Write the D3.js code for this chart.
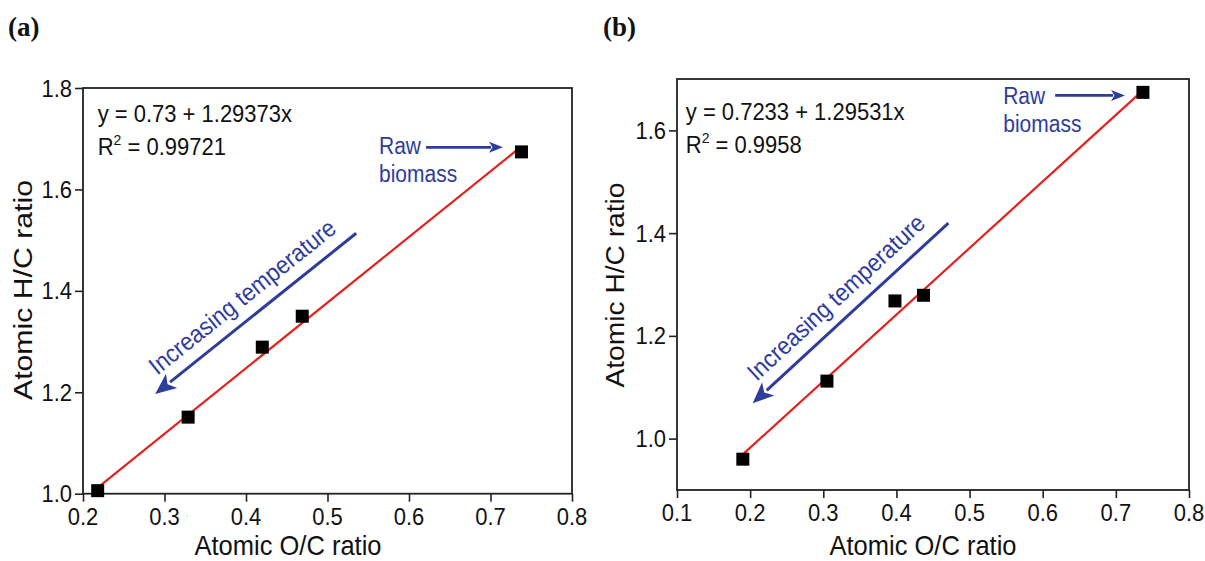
<!DOCTYPE html>
<html>
<head>
<meta charset="utf-8">
<script src="https://cdn.jsdelivr.net/npm/d3@7"></script>
<style>
  html, body { margin: 0; padding: 0; background: #fff; }
</style>
</head>
<body>
<svg id="chart" width="1205" height="561"></svg>
<script>
// ---------------- DATA ----------------
const ocA = [0.218, 0.329, 0.420, 0.469, 0.738];
const hcA = [1.006, 1.151, 1.289, 1.350, 1.674];
const fitA = [0.73, 1.29373];          // intercept, slope
const fitRangeA = [0.218, 0.738];
const eqA = ["y = 0.73 + 1.29373x", "0.99721"];
const xTicksA = [0.2, 0.3, 0.4, 0.5, 0.6, 0.7, 0.8];
const yTicksA = [1.0, 1.2, 1.4, 1.6, 1.8];

const ocB = [0.190, 0.305, 0.398, 0.437, 0.737];
const hcB = [0.960, 1.112, 1.268, 1.279, 1.674];
const fitB = [0.7233, 1.29531];
const fitRangeB = [0.190, 0.740];
const eqB = ["y = 0.7233 + 1.29531x", "0.9958"];
const xTicksB = [0.1, 0.2, 0.3, 0.4, 0.5, 0.6, 0.7, 0.8];
const yTicksB = [1.0, 1.2, 1.4, 1.6];

const xTitle = "Atomic O/C ratio";
const yTitle = "Atomic H/C ratio";
const rawLabel = ["Raw", "biomass"];
const tempLabel = "Increasing temperature";

// ---------------- LAYOUT ----------------
const RED = "#e3221f", BLUE = "#2e3c9c", INK = "#111";
const SANS = "Arial, 'Liberation Sans', sans-serif";
const SY = 1.1; // vertical stretch of the reference's lettering
const svg = d3.select("#chart");
const fmt = d3.format(".1f");

// text with slight vertical stretch, anchored at (x, y) baseline
function stext(g, x, y, str, size, anchor, fill) {
  return g.append("text")
    .attr("transform", `translate(${x},${y}) scale(1,${SY})`)
    .attr("text-anchor", anchor || "start")
    .style("font-family", SANS).style("font-size", size + "px")
    .attr("fill", fill || INK).text(str);
}

function panel(cfg) {
  const g = svg.append("g");
  const x = d3.scaleLinear().domain(cfg.xDomain).range([cfg.left, cfg.right]);
  const y = d3.scaleLinear().domain(cfg.yDomain).range([cfg.bottom, cfg.top]);

  // frame
  g.append("rect").attr("x", cfg.left).attr("y", cfg.top)
    .attr("width", cfg.right - cfg.left).attr("height", cfg.bottom - cfg.top)
    .attr("fill", "none").attr("stroke", "#222").attr("stroke-width", 1.8);

  // x axis ticks
  const xMinor = d3.range(cfg.xDomain[0] + 0.05, cfg.xDomain[1], 0.1);
  const gx = g.append("g").attr("transform", `translate(0,${cfg.bottom})`);
  gx.call(d3.axisBottom(x).tickValues(xMinor).tickSize(5).tickFormat(""));
  gx.call(d3.axisBottom(x).tickValues(cfg.xTicks).tickSize(8).tickFormat(""));
  // y axis ticks
  const gy = g.append("g").attr("transform", `translate(${cfg.left},0)`);
  gy.call(d3.axisLeft(y).tickValues(cfg.yMinor).tickSize(5).tickFormat(""));
  gy.call(d3.axisLeft(y).tickValues(cfg.yTicks).tickSize(8).tickFormat(""));
  g.selectAll(".domain").remove();
  g.selectAll(".tick line").attr("stroke", "#222").attr("stroke-width", 1.6);

  // tick labels
  cfg.xTicks.forEach(v => stext(g, x(v), cfg.bottom + 31, fmt(v), 22, "middle"));
  cfg.yTicks.forEach(v => stext(g, cfg.left - 11, y(v) + 8.5, fmt(v), 22, "end"));

  // titles
  stext(g, cfg.xTitleX, cfg.xTitleY, xTitle, 25.5, "middle");
  g.append("text").attr("transform", `translate(${cfg.yTitleX},${cfg.yTitleY}) rotate(-90)`)
    .attr("text-anchor", "middle").style("font-family", SANS).style("font-size", "26px").attr("fill", INK)
    .attr("textLength", cfg.yTitleLen).attr("lengthAdjust", "spacingAndGlyphs").text(yTitle);

  // panel label
  svg.append("text").attr("x", cfg.labelX).attr("y", 36)
    .style("font-family", "'Liberation Serif', 'Times New Roman', serif")
    .style("font-weight", "bold").style("font-size", "27px").attr("fill", INK).text(cfg.label);

  // fit line
  g.append("line")
    .attr("x1", x(cfg.fitRange[0])).attr("y1", y(cfg.fit[0] + cfg.fit[1] * cfg.fitRange[0]))
    .attr("x2", x(cfg.fitRange[1])).attr("y2", y(cfg.fit[0] + cfg.fit[1] * cfg.fitRange[1]))
    .attr("stroke", RED).attr("stroke-width", 2.2);

  // points
  const s = 13;
  g.selectAll("rect.pt").data(cfg.xs.map((v, i) => [v, cfg.ys[i]])).enter()
    .append("rect").attr("class", "pt")
    .attr("x", d => x(d[0]) - s / 2).attr("y", d => y(d[1]) - s / 2)
    .attr("width", s).attr("height", s).attr("fill", "#000");

  // equation
  const ex = x(cfg.eqPos[0]), ey = y(cfg.eqPos[1]);
  stext(g, ex, ey, cfg.eq[0], 22, "start");
  const r2 = stext(g, ex, ey + 33, "", 22, "start");
  r2.append("tspan").text("R");
  r2.append("tspan").style("font-size", "14px").attr("dy", -9).text("2");
  r2.append("tspan").attr("dy", 9).text(" = " + cfg.eq[1]);

  // Raw biomass label + arrow
  stext(g, x(cfg.rawPos[0]), y(cfg.rawPos[1]), rawLabel[0], 21, "start", BLUE);
  stext(g, x(cfg.rawPos[0]), y(cfg.rawPos[1]) + 28, rawLabel[1], 21, "start", BLUE);
  arrow(g, x(cfg.rawArrow[0]), y(cfg.rawArrow[1]), x(cfg.rawArrow[2]), y(cfg.rawArrow[1]), 2.8, 14, 11);

  // temperature arrow
  const x1 = x(cfg.tArrow[0]), y1 = y(cfg.tArrow[1]), x2 = x(cfg.tArrow[2]), y2 = y(cfg.tArrow[3]);
  arrow(g, x1, y1, x2, y2, 3, 21, 18);
  const ang = Math.atan2(y1 - y2, x1 - x2) * 180 / Math.PI;
  const len = Math.hypot(x1 - x2, y1 - y2);
  const ux = (x1 - x2) / len, uy = (y1 - y2) / len;
  const nx = uy, ny = -ux; // perpendicular, upper-left side
  const t = cfg.tTextAlong, off = cfg.tTextOff;
  const cx = x2 + ux * t * len + nx * off, cy = y2 + uy * t * len + ny * off;
  g.append("text").attr("transform", `translate(${cx},${cy}) rotate(${ang}) scale(1,${SY})`)
    .attr("text-anchor", "middle").style("font-family", SANS).style("font-size", "22.5px")
    .attr("fill", BLUE).text(tempLabel);
}

function arrow(g, x1, y1, x2, y2, w, headLen, headW) {
  const len = Math.hypot(x2 - x1, y2 - y1);
  const ux = (x2 - x1) / len, uy = (y2 - y1) / len;
  const bx = x2 - ux * headLen, by = y2 - uy * headLen;
  g.append("line").attr("x1", x1).attr("y1", y1).attr("x2", bx + ux * 2).attr("y2", by + uy * 2)
    .attr("stroke", BLUE).attr("stroke-width", w);
  const px = -uy, py = ux;
  g.append("path").attr("d", `M${x2},${y2}L${bx + px * headW / 2},${by + py * headW / 2}L${bx + ux * headLen * 0.25},${by + uy * headLen * 0.25}L${bx - px * headW / 2},${by - py * headW / 2}Z`)
    .attr("fill", BLUE);
}

panel({
  label: "(a)", labelX: 8,
  left: 83, right: 572, top: 88, bottom: 493.7,
  xDomain: [0.2, 0.8], yDomain: [1.0, 1.8],
  xTicks: xTicksA, yTicks: yTicksA, yMinor: [1.1, 1.3, 1.5, 1.7],
  xs: ocA, ys: hcA, fit: fitA, fitRange: fitRangeA, eq: eqA,
  eqPos: [0.218, 1.733],
  rawPos: [0.5632, 1.670], rawArrow: [0.6209, 1.683, 0.7153],
  tArrow: [0.5352, 1.5135, 0.2886, 1.1966], tTextAlong: 0.5, tTextOff: 13,
  xTitleX: 288, xTitleY: 555, yTitleX: 32, yTitleY: 290, yTitleLen: 220
});

panel({
  label: "(b)", labelX: 603,
  left: 677, right: 1189, top: 79, bottom: 490,
  xDomain: [0.1, 0.8], yDomain: [0.9, 1.7],
  xTicks: xTicksB, yTicks: yTicksB, yMinor: [0.9, 1.1, 1.3, 1.5, 1.7],
  xs: ocB, ys: hcB, fit: fitB, fitRange: fitRangeB, eq: eqB,
  eqPos: [0.112, 1.621],
  rawPos: [0.546, 1.652], rawArrow: [0.617, 1.668, 0.7125],
  tArrow: [0.471, 1.4195, 0.2035, 1.069], tTextAlong: 0.5, tTextOff: 13,
  xTitleX: 923, xTitleY: 555, yTitleX: 624, yTitleY: 285, yTitleLen: 205
});
</script>
</body>
</html>
